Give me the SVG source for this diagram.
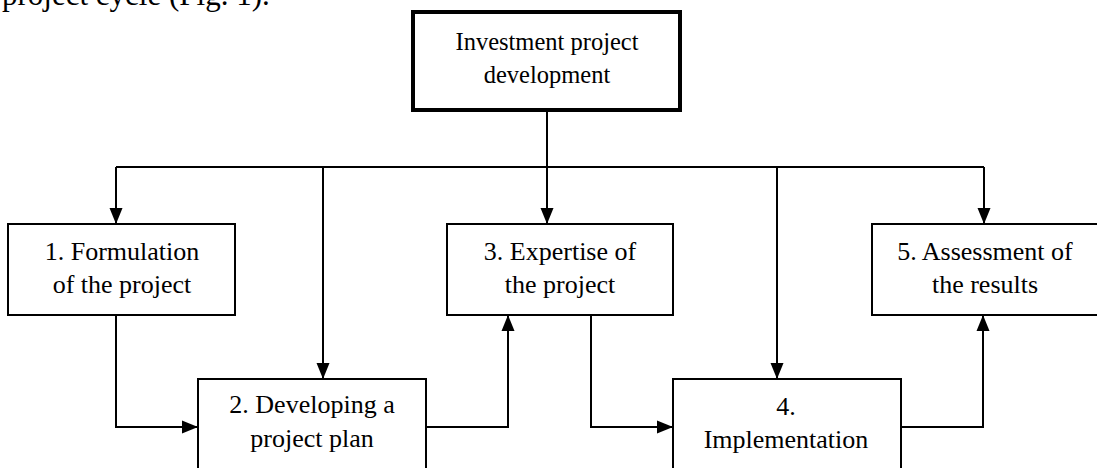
<svg xmlns="http://www.w3.org/2000/svg" width="1097" height="468" viewBox="0 0 1097 468">
<style>
  .box { fill: #ffffff; stroke: #000000; stroke-width: 2; }
  .main { fill: #ffffff; stroke: #000000; stroke-width: 4; }
  .t { font-family: "Liberation Serif", "Times New Roman", serif; font-size: 26px; fill: #000000; text-anchor: middle; }
  .tm { font-family: "Liberation Serif", "Times New Roman", serif; font-size: 24.5px; fill: #000000; text-anchor: middle; }
  .body { font-family: "Liberation Serif", "Times New Roman", serif; font-size: 31px; fill: #000000; }
  .c { fill: none; stroke: #000000; stroke-width: 2; }
</style>
<defs>
  <marker id="arr" markerUnits="userSpaceOnUse" markerWidth="17" markerHeight="14" refX="16" refY="7" orient="auto">
    <path d="M0,0.5 L16,7 L0,13.5 Z" fill="#000000"/>
  </marker>
</defs>
<rect width="1097" height="468" fill="#ffffff"/>
<text class="body" x="2" y="5">project cycle (Fig. 1).</text>
<g id="connectors">
  <path class="c" d="M547,110 V167"/>
  <path class="c" d="M116,167 H984"/>
  <path class="c" d="M116,167 V224" marker-end="url(#arr)"/>
  <path class="c" d="M323,167 V379" marker-end="url(#arr)"/>
  <path class="c" d="M547,167 V224" marker-end="url(#arr)"/>
  <path class="c" d="M777,167 V379" marker-end="url(#arr)"/>
  <path class="c" d="M984,167 V224" marker-end="url(#arr)"/>
  <path class="c" d="M116,315 V427 H198" marker-end="url(#arr)"/>
  <path class="c" d="M426,427 H508 V315" marker-end="url(#arr)"/>
  <path class="c" d="M591,315 V427 H673" marker-end="url(#arr)"/>
  <path class="c" d="M901,427 H983 V315" marker-end="url(#arr)"/>
</g>
<g id="node-main">
  <rect class="main" x="413" y="12" width="267" height="98"/>
  <text class="tm" x="547" y="50">Investment project</text>
  <text class="tm" x="547" y="83">development</text>
</g>
<g id="node-1">
  <rect class="box" x="8" y="224" width="227" height="91"/>
  <text class="t" x="122" y="260">1. Formulation</text>
  <text class="t" x="122" y="293">of the project</text>
</g>
<g id="node-2">
  <rect class="box" x="198" y="379" width="228" height="100"/>
  <text class="t" x="312" y="413">2. Developing a</text>
  <text class="t" x="312" y="447">project plan</text>
</g>
<g id="node-3">
  <rect class="box" x="447" y="224" width="226" height="91"/>
  <text class="t" x="560" y="260">3. Expertise of</text>
  <text class="t" x="560" y="293">the project</text>
</g>
<g id="node-4">
  <rect class="box" x="673" y="379" width="228" height="100"/>
  <text class="t" x="786" y="415">4.</text>
  <text class="t" x="786" y="448">Implementation</text>
</g>
<g id="node-5">
  <rect class="box" x="872" y="224" width="227" height="91"/>
  <text class="t" x="985" y="260">5. Assessment of</text>
  <text class="t" x="985" y="293">the results</text>
</g>
</svg>
